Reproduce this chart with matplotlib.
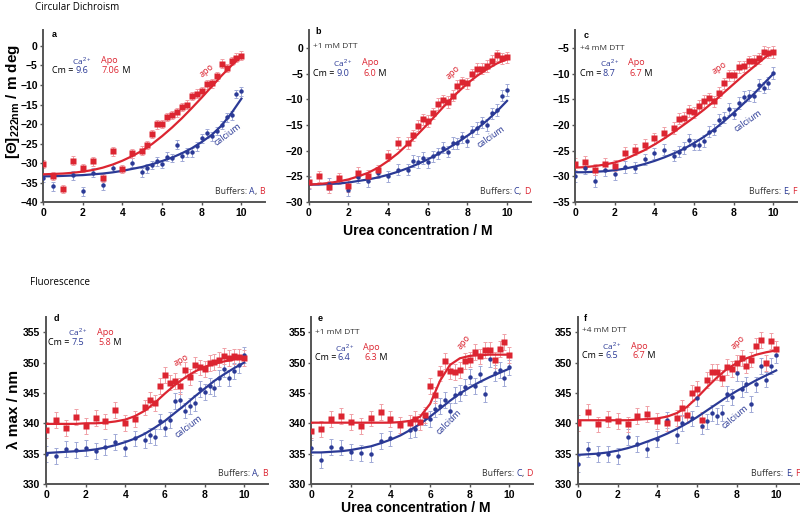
import numpy as np
import matplotlib
matplotlib.use("Agg")
import matplotlib.pyplot as plt

plt.rcParams['font.family'] = ['Liberation Sans', 'DejaVu Sans']
plt.rcParams['mathtext.fontset'] = 'custom'
plt.rcParams['mathtext.rm'] = 'Liberation Sans'
plt.rcParams['mathtext.bf'] = 'Liberation Sans:bold'

# urea concentrations of the measured points (M)
urea = [0, 0.5, 1, 1.5, 2, 2.5, 3, 3.5, 4, 4.5, 5, 5.25, 5.5, 5.75, 6, 6.25,
        6.5, 6.75, 7, 7.25, 7.5, 7.75, 8, 8.25, 8.5, 8.75, 9, 9.25, 9.5, 9.75, 10]
# urea grid of the fitted curves (M)
fit_urea = [0, 0.5, 1, 1.5, 2, 2.5, 3, 3.5, 4, 4.5, 5, 5.5, 6, 6.5, 7, 7.5,
            8, 8.5, 9, 9.5, 10]

# --- circular dichroism, [Theta]222nm / m deg ---
cd_a_apo = [-30.3, -33.3, -36.7, -29.4, -31.3, -29.6, -33.8, -27.0, -31.5, -27.5, -26.8,
            -25.4, -22.6, -20.1, -20.0, -18.2, -17.7, -17.0, -15.6, -15.0, -12.8,
            -12.2, -11.5, -9.8, -9.6, -7.8, -4.5, -5.6, -3.8, -3.0, -2.5]
cd_a_ca = [-33.8, -36.0, None, -33.2, -37.3, -32.5, -35.7, -31.3, None, -29.9, -32.4,
           -31.4, -30.5, -29.6, -30.3, -28.4, -28.7, -25.3, -28.3, -27.3, -27.3,
           -25.7, -23.7, -22.4, -23.2, -21.8, -20.3, -18.3, -17.8, -12.3, -11.6]
cd_b_apo = [-26.1, -25.0, -27.1, -25.4, -26.9, -24.3, -24.9, -23.8, -21.0, -18.5, -18.5,
            -17.0, -15.1, -13.9, -14.2, -12.7, -10.9, -10.2, -10.5, -9.3, -7.4,
            -6.7, -6.9, -5.1, -4.0, -4.0, -3.5, -2.5, -1.4, -2.0, -1.8]
cd_b_ca = [-26.3, None, -26.5, None, -27.7, -25.1, -25.9, -24.3, -25.0, -23.7, -23.7,
           -22.0, -22.2, -21.4, -22.3, -21.1, -20.5, -19.4, -20.2, -18.5, -18.6,
           -17.4, -18.1, -16.2, -15.6, -14.5, -15.0, -12.7, -12.1, -9.3, -8.2]
cd_c_apo = [-27.6, -27.2, -28.7, -27.5, -27.9, -25.4, -24.8, -23.8, -22.6, -21.5, -20.6,
            -18.8, -18.6, -17.3, -17.5, -16.3, -15.3, -14.8, -15.4, -13.7, -11.9,
            -10.3, -10.3, -8.7, -8.6, -7.6, -7.5, -7.0, -5.7, -5.9, -5.8]
cd_c_ca = [-30.0, -28.4, -30.9, -28.8, -29.6, -28.2, -28.3, -26.7, -25.5, -24.8, -26.0,
           -25.2, -24.5, -22.9, -23.8, -23.8, -23.1, -21.3, -20.9, -19.0, -18.6,
           -16.9, -17.8, -15.7, -14.5, -14.3, -14.4, -12.2, -12.7, -11.8, -9.9]

fit_a_apo = [-32.9, -32.8, -32.7, -32.5, -32.2, -31.8, -31.2, -30.4, -29.4, -28.2, -26.8,
             -25.1, -23.1, -20.9, -18.5, -15.9, -13.2, -10.4, -7.6, -5.0, -2.6]
fit_a_ca = [-33.4, -33.4, -33.3, -33.2, -33.1, -32.9, -32.7, -32.4, -32.0, -31.5, -31.0,
            -30.3, -29.5, -28.6, -27.5, -26.2, -24.6, -22.8, -20.4, -17.2, -13.5]
fit_b_apo = [-26.6, -26.5, -26.3, -26.0, -25.6, -25.0, -24.3, -23.3, -22.0, -20.5, -18.7,
             -16.8, -14.8, -12.7, -10.6, -8.7, -6.9, -5.4, -4.1, -3.0, -2.2]
fit_b_ca = [-26.6, -26.6, -26.5, -26.4, -26.2, -25.9, -25.6, -25.2, -24.7, -24.1, -23.4,
            -22.6, -21.7, -20.7, -19.6, -18.4, -17.1, -15.7, -14.1, -12.3, -10.3]
fit_c_apo = [-28.3, -28.2, -28.0, -27.7, -27.3, -26.7, -25.8, -24.9, -23.8, -22.6, -21.3,
             -19.9, -18.5, -17.0, -15.4, -13.7, -12.0, -10.3, -8.7, -7.1, -5.6]
fit_c_ca = [-29.2, -29.2, -29.1, -29.0, -28.8, -28.5, -28.1, -27.6, -27.0, -26.3, -25.5,
            -24.6, -23.5, -22.3, -20.9, -19.3, -17.6, -15.8, -14.0, -12.0, -10.0]

# --- fluorescence, lambda max / nm ---
fl_d_apo = [338.9, 340.5, 339.2, 341.0, 339.5, 340.9, 340.3, 342.2, 340.1, 340.7, 342.6,
            343.9, 343.4, 346.2, 348.0, 346.7, 346.9, 346.1, 348.8, 347.6, 349.6,
            349.2, 349.0, 349.9, 350.1, 350.5, 351.1, 350.8, 351.0, 350.9, 350.7]
fl_d_ca = [335.0, 334.6, 335.8, 335.6, 335.9, 335.5, 336.1, 336.9, 335.9, 337.5, 337.2,
           338.0, 337.8, 340.3, 339.2, 340.6, 343.7, 343.8, 342.1, 342.8, 343.4,
           345.6, 345.1, 346.2, 345.8, 347.5, 348.9, 347.4, 348.6, 349.6, 351.2]
fl_e_apo = [338.8, 339.1, 340.7, 341.2, 340.2, 339.5, 340.8, 341.8, 340.7, 339.7, 340.0,
            340.7, 340.2, 341.4, 346.2, 344.6, 348.2, 350.2, 348.6, 348.4, 348.8,
            350.3, 350.5, 351.7, 351.0, 352.1, 352.1, 350.4, 352.2, 353.4, 351.3]
fl_e_ca = [336.0, 334.0, 336.1, 336.0, 335.3, 335.1, 334.9, 337.1, 337.5, None, 338.9,
           339.0, None, 341.0, 340.7, 342.4, 342.8, 343.8, 342.1, 344.7, 345.0,
           346.0, 347.7, 346.1, 348.1, 344.8, 350.6, 348.3, 348.8, 347.4, 349.2]
fl_f_apo = [340.1, 341.9, 339.8, 340.7, 340.4, 339.8, 341.2, 341.5, 340.4, 340.1, 340.9,
            342.5, 341.3, 345.0, 345.7, 340.6, 347.1, 348.5, 348.4, 347.5, 349.3,
            349.0, 349.9, 350.8, 349.5, 350.5, 352.7, 353.7, 349.9, 353.5, 352.3]
fl_f_ca = [333.3, 335.7, 335.0, 335.0, 334.6, 337.8, 336.6, 335.7, 337.4, 340.5, 338.0,
           340.0, None, 340.8, 344.1, 339.5, 340.3, 341.7, 341.2, 341.7, 344.9,
           344.3, 348.3, 345.6, 346.4, 343.2, 346.4, 349.4, 347.2, 349.4, 351.2]

fit_d_apo = [339.9, 339.9, 339.9, 339.9, 340.0, 340.0, 340.1, 340.3, 340.6, 341.2, 342.1,
             343.4, 344.9, 346.3, 347.5, 348.5, 349.3, 349.8, 350.2, 350.5, 350.7]
fit_d_ca = [335.1, 335.2, 335.3, 335.4, 335.5, 335.7, 336.0, 336.4, 336.9, 337.5, 338.3,
            339.3, 340.4, 341.7, 343.0, 344.4, 345.7, 347.0, 348.1, 349.1, 350.0]
fit_e_apo = [340.1, 340.1, 340.1, 340.1, 340.1, 340.1, 340.1, 340.1, 340.1, 340.2, 340.4,
             341.1, 343.2, 347.0, 349.6, 350.7, 351.1, 351.2, 351.3, 351.3, 351.3]
fit_e_ca = [335.2, 335.2, 335.3, 335.4, 335.6, 335.9, 336.2, 336.7, 337.3, 338.0, 338.9,
            339.9, 341.1, 342.4, 343.7, 344.9, 345.9, 346.8, 347.6, 348.3, 349.0]
fit_f_apo = [340.5, 340.5, 340.5, 340.5, 340.5, 340.5, 340.6, 340.7, 340.8, 341.1, 341.7,
             342.7, 344.2, 345.9, 347.5, 348.9, 349.9, 350.7, 351.3, 351.7, 352.0]
fit_f_ca = [334.8, 334.9, 335.0, 335.2, 335.5, 335.9, 336.4, 337.0, 337.6, 338.3, 339.1,
            340.0, 341.0, 342.1, 343.2, 344.3, 345.3, 346.2, 347.1, 347.9, 348.7]

panel_letters = ['a', 'b', 'c', 'd', 'e', 'f']
dtt_labels = [None, '+1 mM DTT', '+4 mM DTT', None, '+1 mM DTT', '+4 mM DTT']
cm_calcium = ['9.6', '9.0', '8.7', '7.5', '6.4', '6.5']
cm_apo = ['7.06', '6.0', '6.7', '5.8', '6.3', '6.7']
buffers = [('A', 'B'), ('C', 'D'), ('E', 'F'), ('A', 'B'), ('C', 'D'), ('E', 'F')]
err_size = [1.1, 1.1, 1.1, 1.3, 1.3, 1.3]

RED = '#dc2531'
BLUE = '#2b3a96'
RED_ERR = '#f0a0a6'
BLUE_ERR = '#a0a9d6'
DARK = '#333333'
ANN = 'Open Sans'

apo_sets = [cd_a_apo, cd_b_apo, cd_c_apo, fl_d_apo, fl_e_apo, fl_f_apo]
ca_sets = [cd_a_ca, cd_b_ca, cd_c_ca, fl_d_ca, fl_e_ca, fl_f_ca]
fit_apo_sets = [fit_a_apo, fit_b_apo, fit_c_apo, fit_d_apo, fit_e_apo, fit_f_apo]
fit_ca_sets = [fit_a_ca, fit_b_ca, fit_c_ca, fit_d_ca, fit_e_ca, fit_f_ca]

# layout (figure fractions) and per-panel text placement
rects = [[0.054, 0.6115, 0.2775, 0.3308], [0.386, 0.6115, 0.2775, 0.3308],
         [0.719, 0.6115, 0.2775, 0.3308], [0.0575, 0.0692, 0.2775, 0.3212],
         [0.389, 0.0692, 0.2775, 0.3212], [0.7225, 0.0692, 0.2775, 0.3212]]
ylims = [(-40, 4.1), (-30, 3.5), (-35, -1.5), (330, 357.5), (330, 357.5), (330, 357.5)]
yticks = [np.arange(-40, 1, 5), np.arange(-30, 1, 5), np.arange(-35, -4, 5),
          np.arange(330, 356, 5), np.arange(330, 356, 5), np.arange(330, 356, 5)]
text_x0 = [0.04, 0.02, 0.02, 0.01, 0.015, 0.02]
text_rows = [(None, 0.82, 0.765), (0.905, 0.81, 0.75), (0.89, 0.81, 0.75),
             (None, 0.91, 0.85), (0.91, 0.815, 0.76), (0.92, 0.826, 0.77)]
letter_pos = [(0.04, 0.975), (0.03, 0.99), (0.036, 0.97), (0.035, 0.99), (0.03, 0.99), (0.025, 0.99)]
apo_lbl = [(8.25, -6.2, 40), (7.3, -4.7, 45), (7.3, -8.9, 35), (6.8, 350.4, 30), (7.7, 353.4, 52), (8.1, 353.4, 45)]
ca_lbl = [(9.3, -22.8, 37), (9.2, -17.3, 35), (8.7, -19.1, 35), (7.2, 339.4, 37), (6.95, 340.2, 45), (7.9, 341.0, 40)]


def series(vals):
    return np.array([np.nan if v is None else v for v in vals], dtype=float)


fig = plt.figure(figsize=(8, 5.2), dpi=100)
x = np.array(urea)

for i in range(6):
    ax = fig.add_axes(rects[i])
    apo = series(apo_sets[i])
    ca = series(ca_sets[i])
    e = err_size[i]

    ax.errorbar(x, ca, yerr=e, fmt='none', ecolor=BLUE_ERR, elinewidth=0.7, capsize=1.5, capthick=0.7, zorder=2)
    ax.errorbar(x, apo, yerr=e, fmt='none', ecolor=RED_ERR, elinewidth=0.7, capsize=1.5, capthick=0.7, zorder=2)
    ax.plot(fit_urea, fit_ca_sets[i], color=BLUE, lw=1.6, zorder=3)
    ax.plot(fit_urea, fit_apo_sets[i], color=RED, lw=1.6, zorder=3)
    ax.plot(x, ca, 'o', color=BLUE, ms=3.2, mec='none', zorder=4)
    ax.plot(x, apo, 's', color=RED, ms=4, mec='none', zorder=4)

    ax.set_xlim(0, 11.2)
    ax.set_ylim(*ylims[i])
    ax.set_xticks([0, 2, 4, 6, 8, 10])
    ax.set_yticks(yticks[i])
    for s in ['top', 'right']:
        ax.spines[s].set_visible(False)
    for s in ['left', 'bottom']:
        ax.spines[s].set_color('#555555')
        ax.spines[s].set_linewidth(1.4)
    ax.tick_params(length=2, width=1, color='#555555', labelsize=7.5, pad=2)
    for lab in ax.get_xticklabels() + ax.get_yticklabels():
        lab.set_fontweight('bold')

    tr = ax.transAxes
    lx, ly = letter_pos[i]
    ax.text(lx, ly, panel_letters[i], transform=tr, fontsize=6.5, fontweight='bold', va='center', ha='left')
    x0 = text_x0[i]
    y_dtt, y_hdr, y_cm = text_rows[i]
    if dtt_labels[i]:
        ax.text(x0, y_dtt, dtt_labels[i], transform=tr, fontsize=6, family=ANN, color=DARK, va='center')
    ax.text(x0 + 0.09, y_hdr, 'Ca$^{2+}$', transform=tr, fontsize=6, family=ANN, color=BLUE, va='center')
    ax.text(x0 + 0.22, y_hdr, 'Apo', transform=tr, fontsize=6.5, family=ANN, color=RED, va='center')
    ax.text(x0, y_cm, 'Cm =', transform=tr, fontsize=6.5, family=ANN, color='black', va='center')
    ax.text(x0 + 0.105, y_cm, cm_calcium[i], transform=tr, fontsize=6.5, family=ANN, color=BLUE, va='center')
    t = ax.text(x0 + 0.225, y_cm, cm_apo[i], transform=tr, fontsize=6.5, family=ANN, color=RED, va='center')
    ax.annotate(' M', xycoords=t, xy=(1, 0), va='bottom', fontsize=6.5, family=ANN, color='black')

    # "Buffers: X, Y" with coloured letters, right-aligned at the axes edge
    t = ax.text(0.998, 0.035, buffers[i][1], transform=tr, fontsize=6.3, family=ANN, color=RED,
                va='bottom', ha='right')
    t = ax.annotate(', ', xycoords=t, xy=(0, 0), va='bottom', ha='right', fontsize=6.3, family=ANN, color=DARK)
    t = ax.annotate(buffers[i][0], xycoords=t, xy=(0, 0), va='bottom', ha='right', fontsize=6.3, family=ANN, color=BLUE)
    ax.annotate('Buffers: ', xycoords=t, xy=(0, 0), va='bottom', ha='right', fontsize=6.3, family=ANN, color=DARK)

    ax_, ay_, arot = apo_lbl[i]
    ax.text(ax_, ay_, 'apo', fontsize=6.5, family=ANN, color=RED, rotation=arot,
            ha='center', va='center', rotation_mode='anchor')
    cx_, cy_, crot = ca_lbl[i]
    ax.text(cx_, cy_, 'calcium', fontsize=6.5, family=ANN, color=BLUE, rotation=crot,
            ha='center', va='center', rotation_mode='anchor')

fig.text(0.044, 0.986, 'Circular Dichroism', fontsize=7, family=ANN, va='center', ha='left')
fig.text(0.037, 0.456, 'Fluorescence', fontsize=7, family=ANN, va='center', ha='left')
fig.text(0.522, 0.556, 'Urea concentration / M', fontsize=10, fontweight='bold', ha='center', va='center')
fig.text(0.52, 0.024, 'Urea concentration / M', fontsize=10, fontweight='bold', ha='center', va='center')
fig.text(0.016, 0.805, '[Θ]$_{\\mathbf{222nm}}$ / m deg', fontsize=11, fontweight='bold',
         rotation=90, ha='center', va='center')
fig.text(0.018, 0.212, 'λ max / nm', fontsize=11, fontweight='bold', rotation=90, ha='center', va='center')

fig.savefig('out.png', dpi=100)
